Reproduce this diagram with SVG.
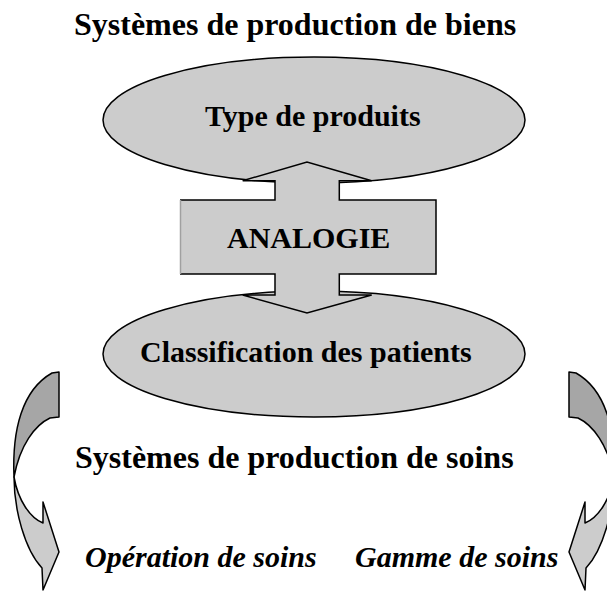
<svg xmlns="http://www.w3.org/2000/svg" width="607" height="592" viewBox="0 0 607 592">
  <style>
    .shape { fill: #cccccc; stroke: #000000; stroke-width: 1.5; stroke-linejoin: miter; }
    .dark { fill: #a6a6a6; stroke: #000000; stroke-width: 1.5; stroke-linejoin: round; }
    .light { fill: #cccccc; stroke: #000000; stroke-width: 1.5; stroke-linejoin: round; }
    .title { font-family: "Liberation Serif", "Times New Roman", serif; font-weight: bold; font-size: 32px; fill: #000; }
    .label { font-family: "Liberation Serif", "Times New Roman", serif; font-weight: bold; font-size: 30px; fill: #000; }
    .ital { font-family: "Liberation Serif", "Times New Roman", serif; font-weight: bold; font-style: italic; font-size: 30px; fill: #000; }
  </style>
  <defs>
    <g id="curl">
      <path class="dark" d="M52,373 L59,372 L59,417 L50,418 C35,425 20,445 14,477 C12,430 22,390 52,373 Z"/>
      <path class="light" d="M14,477 C14,510 25,550 42,568 L43,590 L59,552 L43,502 L43,523 C30,518 18,500 14,477 Z"/>
    </g>
  </defs>

  <rect width="607" height="592" fill="#ffffff"/>

  <g id="title-biens">
    <text class="title" x="74" y="35">Systèmes de production de biens</text>
  </g>

  <g id="node-type-produits">
    <ellipse class="shape" cx="314" cy="120" rx="211" ry="63"/>
    <text class="label" x="205" y="126">Type de produits</text>
  </g>

  <g id="node-classification">
    <ellipse class="shape" cx="314" cy="354" rx="211" ry="63"/>
    <text class="label" x="140" y="362">Classification des patients</text>
  </g>

  <g id="node-analogie">
    <polygon fill="#cccccc" points="180,274 275,274 275,295 242.7,295 307,313 371.7,295 339.3,295 339.3,274 436,274 436,200 339.3,200 339.3,180.7 371.7,180.7 307,162 242.7,180.7 275,180.7 275,200 180,200"/>
    <polyline fill="none" stroke="#000" stroke-width="1.5" points="180,274 275,274 275,295 242.7,295 307,313 371.7,295 339.3,295 339.3,274 436,274 436,200 339.3,200 339.3,180.7 371.7,180.7 307,162 242.7,180.7 275,180.7 275,200 180,200"/>
    <line x1="180.5" y1="200" x2="180.5" y2="274" stroke="#a0a0a0" stroke-width="1.5"/>
    <text class="label" x="227" y="248">ANALOGIE</text>
  </g>

  <g id="connectors">
    <use href="#curl"/>
    <use href="#curl" transform="matrix(-1 0 0 1 628 0)"/>
  </g>

  <g id="title-soins">
    <text class="title" x="75" y="468">Systèmes de production de soins</text>
  </g>

  <g id="label-operation">
    <text class="ital" x="85" y="567">Opération de soins</text>
  </g>

  <g id="label-gamme">
    <text class="ital" x="355" y="567">Gamme de soins</text>
  </g>
</svg>
